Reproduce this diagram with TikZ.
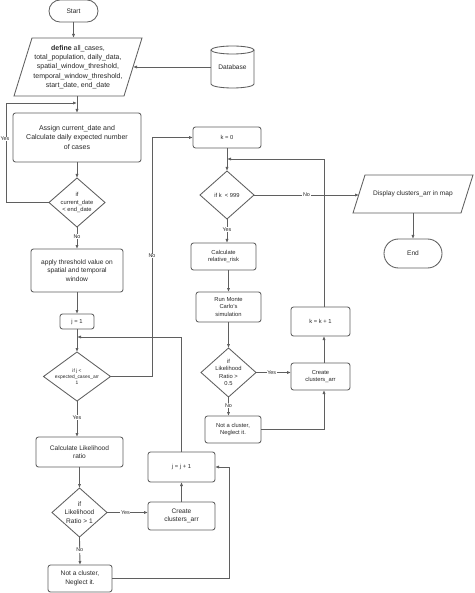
\documentclass[tikz,border=0pt]{standalone}
\usepackage{fontspec}
\setmainfont{Liberation Sans}
\usetikzlibrary{shapes.geometric,arrows.meta,calc}
\definecolor{lcol}{RGB}{95,95,95}
\definecolor{tcol}{RGB}{40,40,40}
\begin{document}
\begin{tikzpicture}[x=1pt,y=-1pt,
  every node/.style={inner sep=0pt,outer sep=0pt,text=tcol},
  box/.style={draw=lcol,line width=0.85pt,rounded corners=2.5pt,align=center,fill=white},
  term/.style={draw=lcol,line width=0.85pt,align=center,fill=white},
  dia/.style={draw=lcol,line width=0.85pt,diamond,fill=white},
  txt/.style={align=center},
  shp/.style={draw=lcol,line width=0.85pt},
  fa/.style={font=\fontsize{7}{9.2}\selectfont},
  fb/.style={font=\fontsize{6.6}{8.6}\selectfont},
  fc/.style={font=\fontsize{5.8}{7.6}\selectfont},
  fd/.style={font=\fontsize{4.9}{6.2}\selectfont},
  lbl/.style={fill=white,font=\fontsize{5.4}{6.4}\selectfont,inner sep=0.6pt},
  conn/.style={draw=lcol,line width=0.85pt},
  arr/.style={conn,-{Latex[length=4pt,width=3.2pt]}}]
\useasboundingbox (0,0) rectangle (474,593);
\fill[white] (0,0) rectangle (474,593);

% ---------- left column ----------
\node[term,fb,rounded corners=11pt,minimum width=49,minimum height=22] (start) at (73.5,11) {Start};

\node[txt,fa,minimum width=110,minimum height=58] (def) at (78,67)
  {\textbf{define} all\_cases,\\total\_population, daily\_data,\\spatial\_window\_threshold,\\temporal\_window\_threshold,\\start\_date, end\_date};
\draw[shp] ($(def.north west)+(9,0)$) -- ($(def.north east)+(9,0)$) -- ($(def.south east)+(-9,0)$) -- ($(def.south west)+(-9,0)$) -- cycle;

\node[fb,minimum width=43,minimum height=42] (db) at (232.5,67) {Database};
\draw[shp] (db.north west) ++(0,4) -- ++(0,34) arc[start angle=180,end angle=360,x radius=21.5pt,y radius=4pt] -- ++(0,-34);
\draw[shp] (db.north) ++(0,4) ellipse[x radius=21.5pt,y radius=4pt];

\node[box,fa,minimum width=128,minimum height=49] (assign) at (77,137.5)
  {Assign current\_date and\\Calculate daily expected number\\of cases};
\node[dia,minimum width=56,minimum height=49] (d1) at (77,202.5) {};
\node[txt,fc] at (d1) {if\\current\_date\\< end\_date};

\node[box,fb,minimum width=92,minimum height=43] (apply) at (77,270.5)
  {apply threshold value on\\spatial and temporal\\window};
\node[box,fc,minimum width=34,minimum height=15] (j1) at (77,321.5) {j = 1};

\node[dia,minimum width=67,minimum height=49] (d2) at (77,376.5) {};
\node[txt,fd] at (d2) {if j <\\expected\_cases\_arr\\1};

\node[box,fb,minimum width=87,minimum height=30] (calc) at (79.5,452) {Calculate Likelihood\\ratio};
\node[dia,minimum width=55,minimum height=49] (d3) at (79.5,512.5) {};
\node[txt,fb] at (d3) {if\\Likelihood\\Ratio > 1};
\node[box,fb,minimum width=64,minimum height=27] (nac1) at (80,578.5) {Not a cluster,\\Neglect it.};

\node[box,fb,minimum width=67,minimum height=28] (create1) at (181.5,516) {Create\\clusters\_arr};
\node[box,fc,minimum width=67,minimum height=30] (jinc) at (181.5,467) {j = j + 1};

% ---------- right column ----------
\node[box,fc,minimum width=68,minimum height=21] (k0) at (227,137.5) {k = 0};
\node[dia,minimum width=54,minimum height=48] (d4) at (227,195) {};
\node[txt,fc] at (d4) {if k~~< 999};

\node[txt,fb,minimum width=108,minimum height=38] (disp) at (413,194) {Display clusters\_arr in map};
\draw[shp] ($(disp.north west)+(6,0)$) -- ($(disp.north east)+(6,0)$) -- ($(disp.south east)+(-6,0)$) -- ($(disp.south west)+(-6,0)$) -- cycle;
\node[term,fb,rounded corners=14.5pt,minimum width=58,minimum height=29] (endn) at (413,253.5) {End};

\node[box,fc,minimum width=65,minimum height=27] (relrisk) at (223.5,256.5) {Calculate\\relative\_risk};
\node[box,fc,minimum width=65,minimum height=30] (monte) at (228.5,307) {Run Monte\\Carlo's\\simulation};
\node[dia,minimum width=55,minimum height=49] (d5) at (228.5,372.5) {};
\node[txt,fc] at (d5) {if\\Likelihood\\Ratio >\\0.5};
\node[box,fc,minimum width=56,minimum height=27] (nac2) at (233,429.5) {Not a cluster,\\Neglect it.};
\node[box,fc,minimum width=59,minimum height=27] (create2) at (320.5,376.5) {Create\\clusters\_arr};
\node[box,fc,minimum width=59,minimum height=29] (kinc) at (320.5,321.5) {k = k + 1};

% ---------- helper coordinates ----------
\coordinate (yesc) at (6,103);
\coordinate (noc) at (152,0);
\coordinate (jloop) at (182,337);
\coordinate (nacc) at (229,0);
\coordinate (kloop) at (324,159);

% ---------- connectors ----------
\draw[arr] (start.south) -- (start.south |- def.north);
\draw[arr] (db.west) -- (def.east);
\draw[arr] (assign.north |- def.south) -- (assign.north);
\draw[arr] (assign.south) -- (d1.north);
\draw[arr] (d1.west) -| (yesc) -- (assign.north |- yesc);
\node[lbl] at (5,139) {Yes};
\draw[arr] (d1.south) -- node[lbl,pos=0.42]{No} (apply.north);
\draw[arr] (apply.south) -- (j1.north);
\draw[arr] (j1.south) -- (d2.north);
\draw[arr] (jinc.north) -- (jinc.north |- jloop) -- (d2.north |- jloop);
\draw[arr] (d2.east) -| (noc |- k0.west) -- (k0.west);
\node[lbl] at (152,256) {No};
\draw[arr] (d2.south) -- node[lbl,pos=0.47]{Yes} (d2.south |- calc.north);
\draw[arr] (calc.south) -- (d3.north);
\draw[arr] (d3.south) -- node[lbl,pos=0.47]{No} (nac1.north);
\draw[arr] (d3.east) -- node[lbl,pos=0.45]{Yes} (d3.east -| create1.west);
\draw[arr] (create1.north) -- (jinc.south);
\draw[arr] (nac1.east) -| (nacc |- jinc.east) -- (jinc.east);

\draw[arr] (k0.south) -- (d4.north);
\draw[arr] (d4.east) -- node[lbl,pos=0.5]{No} (d4.east -| disp.west);
\draw[arr] (disp.south) -- (endn.north);
\draw[arr] (d4.south) -- node[lbl,pos=0.45]{Yes} (d4.south |- relrisk.north);
\draw[arr] (monte.north |- relrisk.south) -- (monte.north);
\draw[arr] (monte.south) -- (d5.north);
\draw[arr] (d5.east) -- node[lbl,pos=0.45]{Yes} (d5.east -| create2.west);
\draw[arr] (d5.south) -- node[lbl,pos=0.45]{No} (d5.south |- nac2.north);
\draw[arr] (nac2.east) -| (kloop |- create2.south);
\draw[arr] (create2.north -| kloop) -- (kloop |- kinc.south);
\draw[arr] (kinc.north -| kloop) -- (kloop) -- (d4.north |- kloop);
\end{tikzpicture}
\end{document}
